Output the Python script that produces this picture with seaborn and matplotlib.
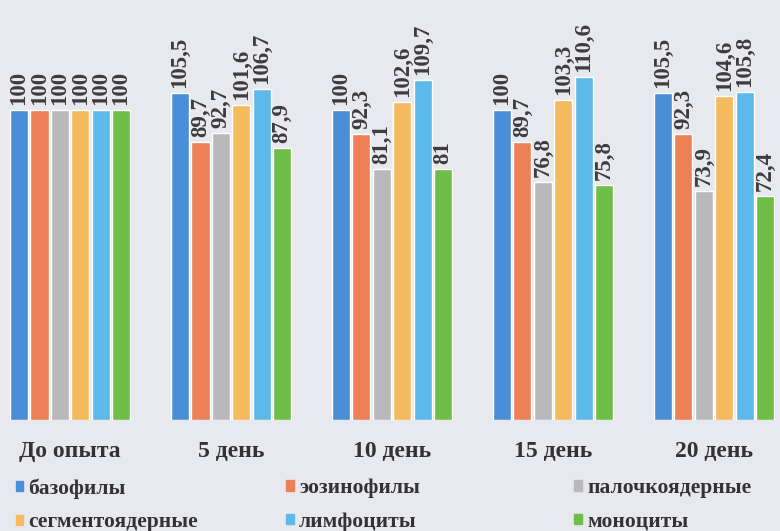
import numpy as np
import matplotlib.pyplot as plt
import seaborn as sns
import pandas as pd
from matplotlib.patches import Patch

# data
periods = ["До опыта", "5 день", "10 день", "15 день", "20 день"]
cells = ["базофилы", "эозинофилы", "палочкоядерные",
         "сегментоядерные", "лимфоциты", "моноциты"]
bazo = [100, 105.5, 100, 100, 105.5]
eozino = [100, 89.7, 92.3, 89.7, 92.3]
palochko = [100, 92.7, 81.1, 76.8, 73.9]
segmento = [100, 101.6, 102.6, 103.3, 104.6]
limfo = [100, 106.7, 109.7, 110.6, 105.8]
mono = [100, 87.9, 81, 75.8, 72.4]

colors = ["#4a8ed8", "#ec8056", "#b9b9bb", "#f5b95e", "#5db9e9", "#6fbe48"]
bg = "#e8e9ee"

rows = []
for name, vals in zip(cells, [bazo, eozino, palochko, segmento, limfo, mono]):
    for p, v in zip(periods, vals):
        rows.append({"period": p, "cell": name, "value": v})
df = pd.DataFrame(rows)

sns.set_theme(style="white")
plt.rcParams["font.family"] = ["Liberation Serif", "DejaVu Serif"]

fig = plt.figure(figsize=(7.8, 5.31), dpi=100, facecolor=bg)
ax = fig.add_axes([0, 0.209, 1, 0.791])
ax.set_facecolor(bg)

sns.barplot(data=df, x="period", y="value", hue="cell", order=periods,
            hue_order=cells, palette=colors, width=0.76, gap=0.11,
            saturation=1, legend=False, ax=ax)

for cont in ax.containers:
    labs = [f"{v:g}".replace(".", ",") for v in cont.datavalues]
    ax.bar_label(cont, labels=labs, rotation=90, padding=3.5, fontsize=16.5,
                 fontweight="bold", color="#3c3c3c")

ax.set_ylim(0, 135.5)
ax.set_xlim(-0.435, 4.41)
ax.set_xlabel("")
ax.set_ylabel("")
ax.set_yticks([])
ax.tick_params(axis="x", length=0, pad=15)
for t in ax.get_xticklabels():
    t.set_fontsize(17)
    t.set_fontweight("bold")
    t.set_color("#333333")
sns.despine(ax=ax, left=True, bottom=True)

# legend in three columns, two rows
xs = [0.02, 0.367, 0.736]
for i, x in enumerate(xs):
    idx = [i, i + 3]
    handles = [Patch(color=colors[j]) for j in idx]
    leg = fig.legend(handles, [cells[j] for j in idx], loc="upper left",
                     bbox_to_anchor=(x, 0.0995), frameon=False,
                     handlelength=0.35, handleheight=0.35, handletextpad=0.25,
                     labelspacing=0.64, borderpad=0, borderaxespad=0,
                     prop={"size": 15.5, "weight": "bold"})
    for t in leg.get_texts():
        t.set_color("#333333")

fig.savefig("out.png", dpi=100, facecolor=bg)
